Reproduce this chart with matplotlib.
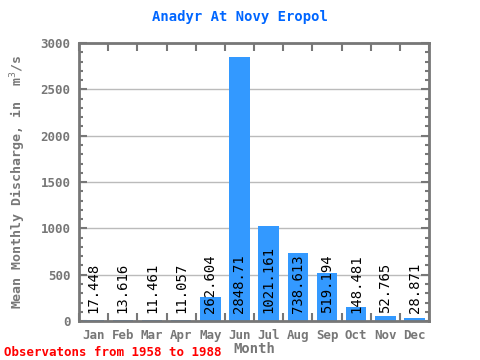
import numpy as np
import matplotlib
matplotlib.use('Agg')
import matplotlib.pyplot as plt
from matplotlib.ticker import MultipleLocator

# mean monthly discharge, m3/s
months = ['Jan', 'Feb', 'Mar', 'Apr', 'May', 'Jun', 'Jul', 'Aug', 'Sep', 'Oct', 'Nov', 'Dec']
values = [17.448, 13.616, 11.461, 11.057, 262.604, 2848.71, 1021.161, 738.613, 519.194, 148.481, 52.765, 28.871]
labels = ['17.448', '13.616', '11.461', '11.057', '262.604', '2848.71', '1021.161', '738.613', '519.194', '148.481', '52.765', '28.871']

plt.rcParams['font.family'] = 'DejaVu Sans Mono'
gray = '#777777'

fig = plt.figure(figsize=(4.8, 3.6), dpi=100)
ax = fig.add_axes([0.1646, 0.108, 0.7294, 0.7726])

x = np.arange(len(months))
ax.bar(x, values, width=0.7, color='#3399FF', zorder=2)
for xi, lab in zip(x, labels):
    ax.text(xi, 85, lab, rotation=90, ha='center', va='bottom', fontsize=10, color='black', zorder=3)

ax.set_xlim(-0.5, 11.5)
ax.set_ylim(0, 3000)
ax.yaxis.set_major_locator(MultipleLocator(500))
ax.yaxis.set_minor_locator(MultipleLocator(100))
ax.grid(axis='y', color='#bbbbbb', linewidth=1, zorder=1)

ax.set_xticks(x)
ax.set_xticklabels(months)
ax.set_xticks(np.arange(-0.5, 12, 1), minor=True)
ax.tick_params(axis='x', which='major', length=0, pad=6, labelsize=9, labelcolor=gray)
ax.tick_params(axis='x', which='minor', direction='in', length=6, width=1.5, color=gray, top=True)
ax.tick_params(axis='y', which='major', direction='in', length=6, width=1.5, color=gray, right=True, labelsize=9, labelcolor=gray, pad=6)
ax.tick_params(axis='y', which='minor', direction='in', length=3, width=1.5, color=gray, right=True)
for lab in ax.get_xticklabels() + ax.get_yticklabels():
    lab.set_fontweight('bold')
for s in ax.spines.values():
    s.set_color(gray)
    s.set_linewidth(2)

ax.set_xlabel('Month', fontsize=10, color=gray, fontweight='bold', labelpad=0)
ax.set_ylabel('Mean Monthly Discharge, in  m$^3$/s', fontsize=9.5, color=gray, fontweight='bold')
ax.yaxis.set_label_coords(-0.145, 0.5)
fig.text(0.5, 0.953, 'Anadyr At Novy Eropol', ha='center', va='center', fontsize=10, color='#0066FF', fontweight='bold')
fig.text(0.008, 0.022, 'Observatons from 1958 to 1988', ha='left', va='center', fontsize=9, color='red', fontweight='bold')

fig.savefig('out.png', dpi=100)
